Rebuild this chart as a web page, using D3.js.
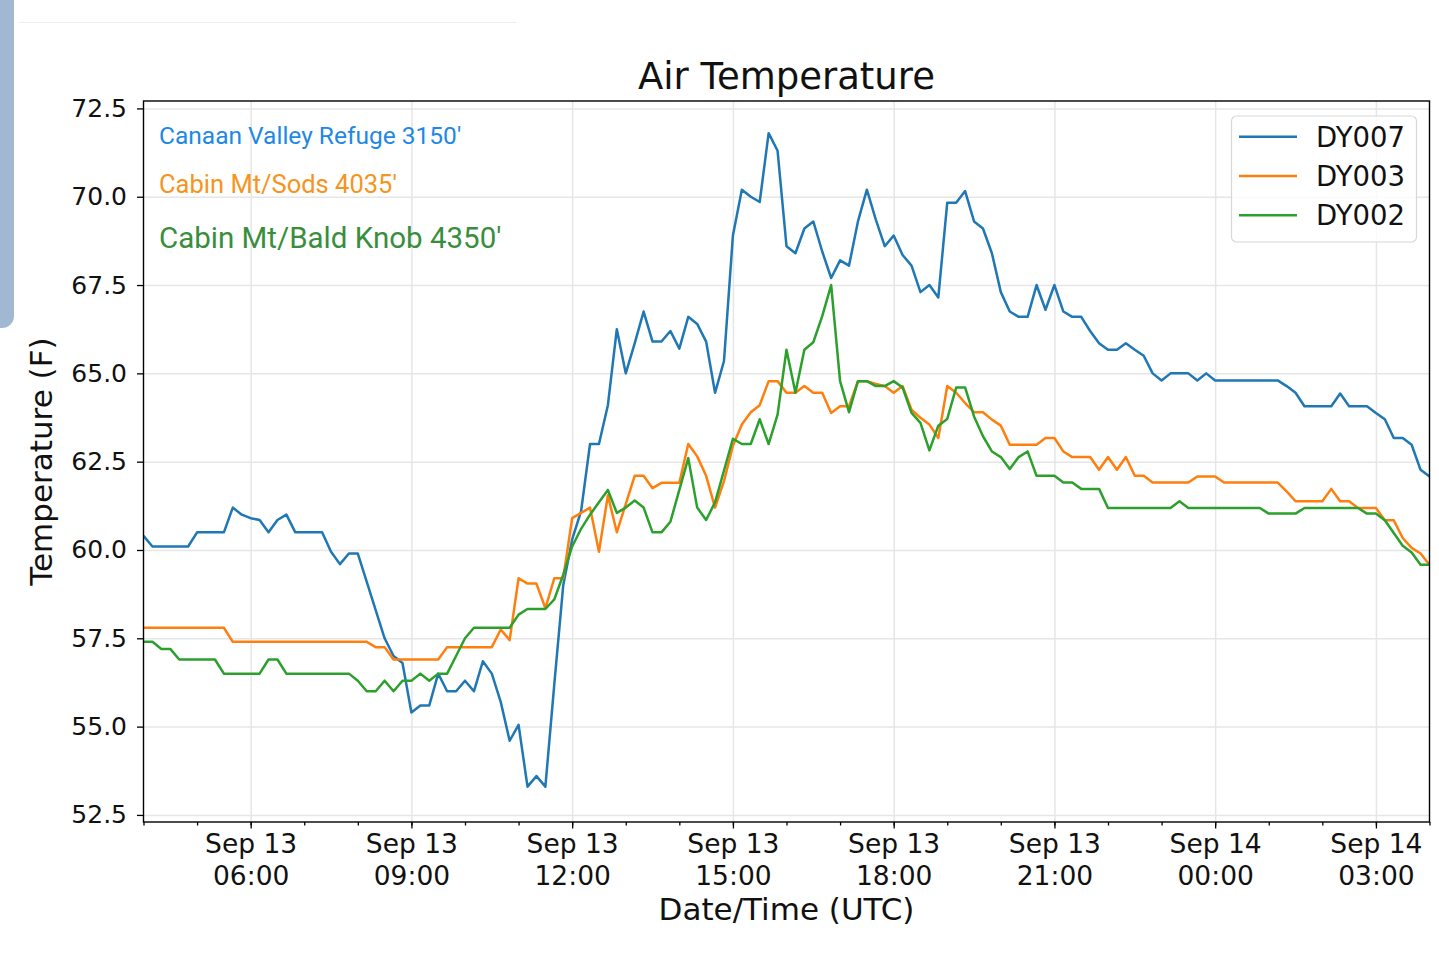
<!DOCTYPE html>
<html>
<head>
<meta charset="utf-8">
<title>Air Temperature</title>
<script src="https://cdn.jsdelivr.net/npm/d3@7"></script>
<style>
  body { margin: 0; background: #fff; }
  svg { display: block; font-family: "DejaVu Sans", sans-serif; }
</style>
</head>
<body>
<svg id="chart" width="1439" height="960"></svg>
<script>
// stations / series
const seriesNames = ['DY007', 'DY003', 'DY002'];
const seriesColors = ['#1f77b4', '#ff7f0e', '#2ca02c'];
const stationLabels = ["Canaan Valley Refuge 3150'", "Cabin Mt/Sods 4035'", "Cabin Mt/Bald Knob 4350'"];
const stationColors = ['#1e88e5', '#f7941d', '#388e3c'];

// one reading every 10 minutes, Sep 13 04:00 -> Sep 14 04:00 (UTC)
const startTime = '2019-09-13T04:00:00Z';
const endTime = '2019-09-14T04:00:00Z';
const stepMinutes = 10;

const dy007 = [
  60.4, 60.1, 60.1, 60.1, 60.1, 60.1, 60.5, 60.5, 60.5, 60.5,
  61.2, 61.0, 60.9, 60.85, 60.5, 60.85, 61.0, 60.5, 60.5, 60.5,
  60.5, 59.95, 59.6, 59.9, 59.9, 59.1, 58.3, 57.5, 57.0, 56.8,
  55.4, 55.6, 55.6, 56.5, 56.0, 56.0, 56.3, 56.0, 56.85, 56.5,
  55.7, 54.6, 55.05, 53.3, 53.6, 53.3, 56.2, 59.0, 60.3, 61.1,
  63.0, 63.0, 64.1, 66.25, 65.0, 65.85, 66.75, 65.9, 65.9, 66.2,
  65.7, 66.6, 66.4, 65.9, 64.45, 65.35, 68.9, 70.2, 70.0, 69.85,
  71.8, 71.3, 68.6, 68.4, 69.1, 69.3, 68.45, 67.7, 68.2, 68.05,
  69.3, 70.2, 69.35, 68.6, 68.9, 68.35, 68.05, 67.3, 67.5, 67.15,
  69.83, 69.83, 70.16, 69.3, 69.1, 68.4, 67.3, 66.75, 66.6, 66.6,
  67.5, 66.8, 67.5, 66.75, 66.6, 66.6, 66.2, 65.85, 65.67, 65.67,
  65.85, 65.67, 65.5, 65.0, 64.8, 65.0, 65.0, 65.0, 64.8, 65.0,
  64.8, 64.8, 64.8, 64.8, 64.8, 64.8, 64.8, 64.8, 64.64, 64.45,
  64.07, 64.07, 64.07, 64.07, 64.43, 64.07, 64.07, 64.07, 63.88, 63.7,
  63.17, 63.17, 62.98, 62.27, 62.08
];

const dy003 = [
  57.8, 57.8, 57.8, 57.8, 57.8, 57.8, 57.8, 57.8, 57.8, 57.8,
  57.4, 57.4, 57.4, 57.4, 57.4, 57.4, 57.4, 57.4, 57.4, 57.4,
  57.4, 57.4, 57.4, 57.4, 57.4, 57.4, 57.25, 57.25, 56.9, 56.9,
  56.9, 56.9, 56.9, 56.9, 57.25, 57.25, 57.25, 57.25, 57.25, 57.25,
  57.75, 57.45, 59.2, 59.05, 59.05, 58.35, 59.2, 59.2, 60.9, 61.05,
  61.2, 59.95, 61.55, 60.5, 61.3, 62.1, 62.1, 61.75, 61.9, 61.9,
  61.9, 63.0, 62.65, 62.1, 61.2, 61.95, 62.95, 63.55, 63.9, 64.1,
  64.78, 64.78, 64.45, 64.45, 64.64, 64.45, 64.45, 63.88, 64.07, 64.07,
  64.78, 64.78, 64.7, 64.64, 64.45, 64.64, 63.97, 63.74, 63.55, 63.17,
  64.64, 64.45, 64.16, 63.9, 63.9, 63.69, 63.52, 62.98, 62.98, 62.98,
  62.98, 63.17, 63.17, 62.79, 62.63, 62.63, 62.63, 62.27, 62.63, 62.27,
  62.63, 62.1, 62.1, 61.91, 61.91, 61.91, 61.91, 61.91, 62.08, 62.08,
  62.08, 61.91, 61.91, 61.91, 61.91, 61.91, 61.91, 61.91, 61.66, 61.38,
  61.38, 61.38, 61.38, 61.73, 61.38, 61.38, 61.19, 61.19, 61.19, 60.84,
  60.84, 60.34, 60.06, 59.9, 59.58
];

const dy002 = [
  57.4, 57.4, 57.2, 57.2, 56.9, 56.9, 56.9, 56.9, 56.9, 56.5,
  56.5, 56.5, 56.5, 56.5, 56.9, 56.9, 56.5, 56.5, 56.5, 56.5,
  56.5, 56.5, 56.5, 56.5, 56.3, 56.0, 56.0, 56.3, 56.0, 56.3,
  56.3, 56.5, 56.3, 56.5, 56.5, 57.0, 57.5, 57.8, 57.8, 57.8,
  57.8, 57.8, 58.17, 58.33, 58.33, 58.33, 58.6, 59.3, 60.1, 60.6,
  61.0, 61.35, 61.7, 61.05, 61.2, 61.4, 61.2, 60.5, 60.5, 60.8,
  61.7, 62.6, 61.2, 60.85, 61.35, 62.25, 63.15, 63.0, 63.0, 63.7,
  63.0, 63.83, 65.67, 64.45, 65.67, 65.88, 66.62, 67.5, 64.78, 63.9,
  64.78, 64.78, 64.64, 64.64, 64.78, 64.6, 63.88, 63.6, 62.82, 63.52,
  63.71, 64.6, 64.6, 63.78, 63.22, 62.79, 62.63, 62.29, 62.63, 62.79,
  62.1, 62.1, 62.1, 61.91, 61.91, 61.73, 61.73, 61.73, 61.19, 61.19,
  61.19, 61.19, 61.19, 61.19, 61.19, 61.19, 61.38, 61.19, 61.19, 61.19,
  61.19, 61.19, 61.19, 61.19, 61.19, 61.19, 61.03, 61.03, 61.03, 61.03,
  61.19, 61.19, 61.19, 61.19, 61.19, 61.19, 61.19, 61.03, 61.03, 60.84,
  60.48, 60.12, 59.93, 59.58, 59.58
];

const yTicks = [52.5, 55.0, 57.5, 60.0, 62.5, 65.0, 67.5, 70.0, 72.5];
const xTicks = [
  '2019-09-13T06:00:00Z', '2019-09-13T09:00:00Z', '2019-09-13T12:00:00Z', '2019-09-13T15:00:00Z',
  '2019-09-13T18:00:00Z', '2019-09-13T21:00:00Z', '2019-09-14T00:00:00Z', '2019-09-14T03:00:00Z'
];
const yLimits = [52.3, 72.71];

const allSeries = [dy007, dy003, dy002];

const svg = d3.select('#chart');

// page leftovers from the screenshot
svg.append('rect').attr('x', -20).attr('y', -20).attr('width', 34).attr('height', 348)
  .attr('rx', 12).attr('fill', '#a0b8d2');
svg.append('line').attr('x1', 19).attr('x2', 516).attr('y1', 22.5).attr('y2', 22.5)
  .attr('stroke', '#ededed').attr('stroke-width', 1);

const plotLeft = 143.5, plotRight = 1429.5, plotTop = 101, plotBottom = 822;

const parse = d3.isoParse;
const t0 = parse(startTime);
const x = d3.scaleUtc().domain([t0, parse(endTime)]).range([plotLeft, plotRight]);
const y = d3.scaleLinear().domain(yLimits).range([plotBottom, plotTop]);
const timeAt = i => d3.utcMinute.offset(t0, i * stepMinutes);
const xTickDates = xTicks.map(parse);

// grid
const gridX = svg.append('g').attr('transform', `translate(0,${plotBottom})`)
  .call(d3.axisBottom(x).tickValues(xTickDates).tickSize(-(plotBottom - plotTop)).tickFormat(''));
const gridY = svg.append('g').attr('transform', `translate(${plotLeft},0)`)
  .call(d3.axisLeft(y).tickValues(yTicks).tickSize(-(plotRight - plotLeft)).tickFormat(''));
[gridX, gridY].forEach(g => {
  g.select('.domain').remove();
  g.selectAll('line').attr('stroke', '#e6e6e6').attr('stroke-width', 1.5);
});

// lines
svg.append('clipPath').attr('id', 'plot-clip')
  .append('rect').attr('x', plotLeft).attr('y', plotTop)
  .attr('width', plotRight - plotLeft).attr('height', plotBottom - plotTop);

const line = d3.line()
  .x((d, i) => x(timeAt(i)))
  .y(d => y(d));

svg.append('g').attr('clip-path', 'url(#plot-clip)')
  .selectAll('path')
  .data(allSeries)
  .enter()
  .append('path')
  .attr('d', line)
  .attr('fill', 'none')
  .attr('stroke', (d, i) => seriesColors[i])
  .attr('stroke-width', 2.5)
  .attr('stroke-linejoin', 'round');

// frame
svg.append('rect').attr('x', plotLeft).attr('y', plotTop)
  .attr('width', plotRight - plotLeft).attr('height', plotBottom - plotTop)
  .attr('fill', 'none').attr('stroke', '#000').attr('stroke-width', 1.4);

// x axis: minor hourly ticks, then labelled 3-hour ticks
const minor = svg.append('g').attr('transform', `translate(0,${plotBottom})`)
  .call(d3.axisBottom(x).ticks(d3.utcHour.every(1)).tickSize(3.5).tickFormat(''));
minor.select('.domain').remove();

const fmtDay = d3.utcFormat('%b %d');
const fmtHour = d3.utcFormat('%H:%M');
const xAxis = svg.append('g').attr('transform', `translate(0,${plotBottom})`)
  .call(d3.axisBottom(x).tickValues(xTickDates).tickSize(6.5).tickPadding(6).tickSizeOuter(0));
xAxis.select('.domain').remove();
xAxis.selectAll('text').each(function (d) {
  const t = d3.select(this).attr('dy', null).text(null);
  t.append('tspan').attr('x', 0).attr('dy', '0.71em').text(fmtDay(d));
  t.append('tspan').attr('x', 0).attr('dy', '1.2em').text(fmtHour(d));
});

const yAxis = svg.append('g').attr('transform', `translate(${plotLeft},0)`)
  .call(d3.axisLeft(y).tickValues(yTicks).tickFormat(d3.format('.1f')).tickSize(6.5).tickPadding(10).tickSizeOuter(0));
yAxis.select('.domain').remove();

[minor, xAxis, yAxis].forEach(g => {
  g.attr('font-family', 'DejaVu Sans').attr('font-size', 26.5);
  g.selectAll('line').attr('stroke', '#000').attr('stroke-width', 1.3);
  g.selectAll('text').attr('fill', '#111');
});
yAxis.attr('font-size', 25);

// titles
const midX = (plotLeft + plotRight) / 2;
svg.append('text').attr('x', midX).attr('y', 89)
  .attr('text-anchor', 'middle').attr('font-size', 37).attr('fill', '#111')
  .text('Air Temperature');
svg.append('text').attr('x', midX).attr('y', 920)
  .attr('text-anchor', 'middle').attr('font-size', 31).attr('fill', '#111')
  .text('Date/Time (UTC)');
svg.append('text').attr('transform', `translate(52,${(plotTop + plotBottom) / 2}) rotate(-90)`)
  .attr('text-anchor', 'middle').attr('font-size', 31).attr('fill', '#111')
  .text('Temperature (F)');

// station notes
const noteY = [144, 193, 248];
const noteSize = [24.5, 25.5, 29.5];
svg.append('g').selectAll('text')
  .data(stationLabels)
  .enter()
  .append('text')
  .attr('x', 159)
  .attr('y', (d, i) => noteY[i])
  .attr('font-family', 'Roboto')
  .attr('font-size', (d, i) => noteSize[i])
  .attr('fill', (d, i) => stationColors[i])
  .text(d => d);

// legend
const legend = svg.append('g');
legend.append('rect').attr('x', 1231.5).attr('y', 116).attr('width', 185).attr('height', 126)
  .attr('rx', 5).attr('fill', '#fff').attr('fill-opacity', 0.8)
  .attr('stroke', '#d8d8d8').attr('stroke-width', 1.2);
seriesNames.forEach((name, i) => {
  const ly = 136.7 + i * 39.3;
  legend.append('line').attr('x1', 1239).attr('x2', 1297).attr('y1', ly).attr('y2', ly)
    .attr('stroke', seriesColors[i]).attr('stroke-width', 2.5);
  legend.append('text').attr('x', 1316).attr('y', ly + 10)
    .attr('font-size', 27.5).attr('fill', '#111').text(name);
});
</script>
</body>
</html>
